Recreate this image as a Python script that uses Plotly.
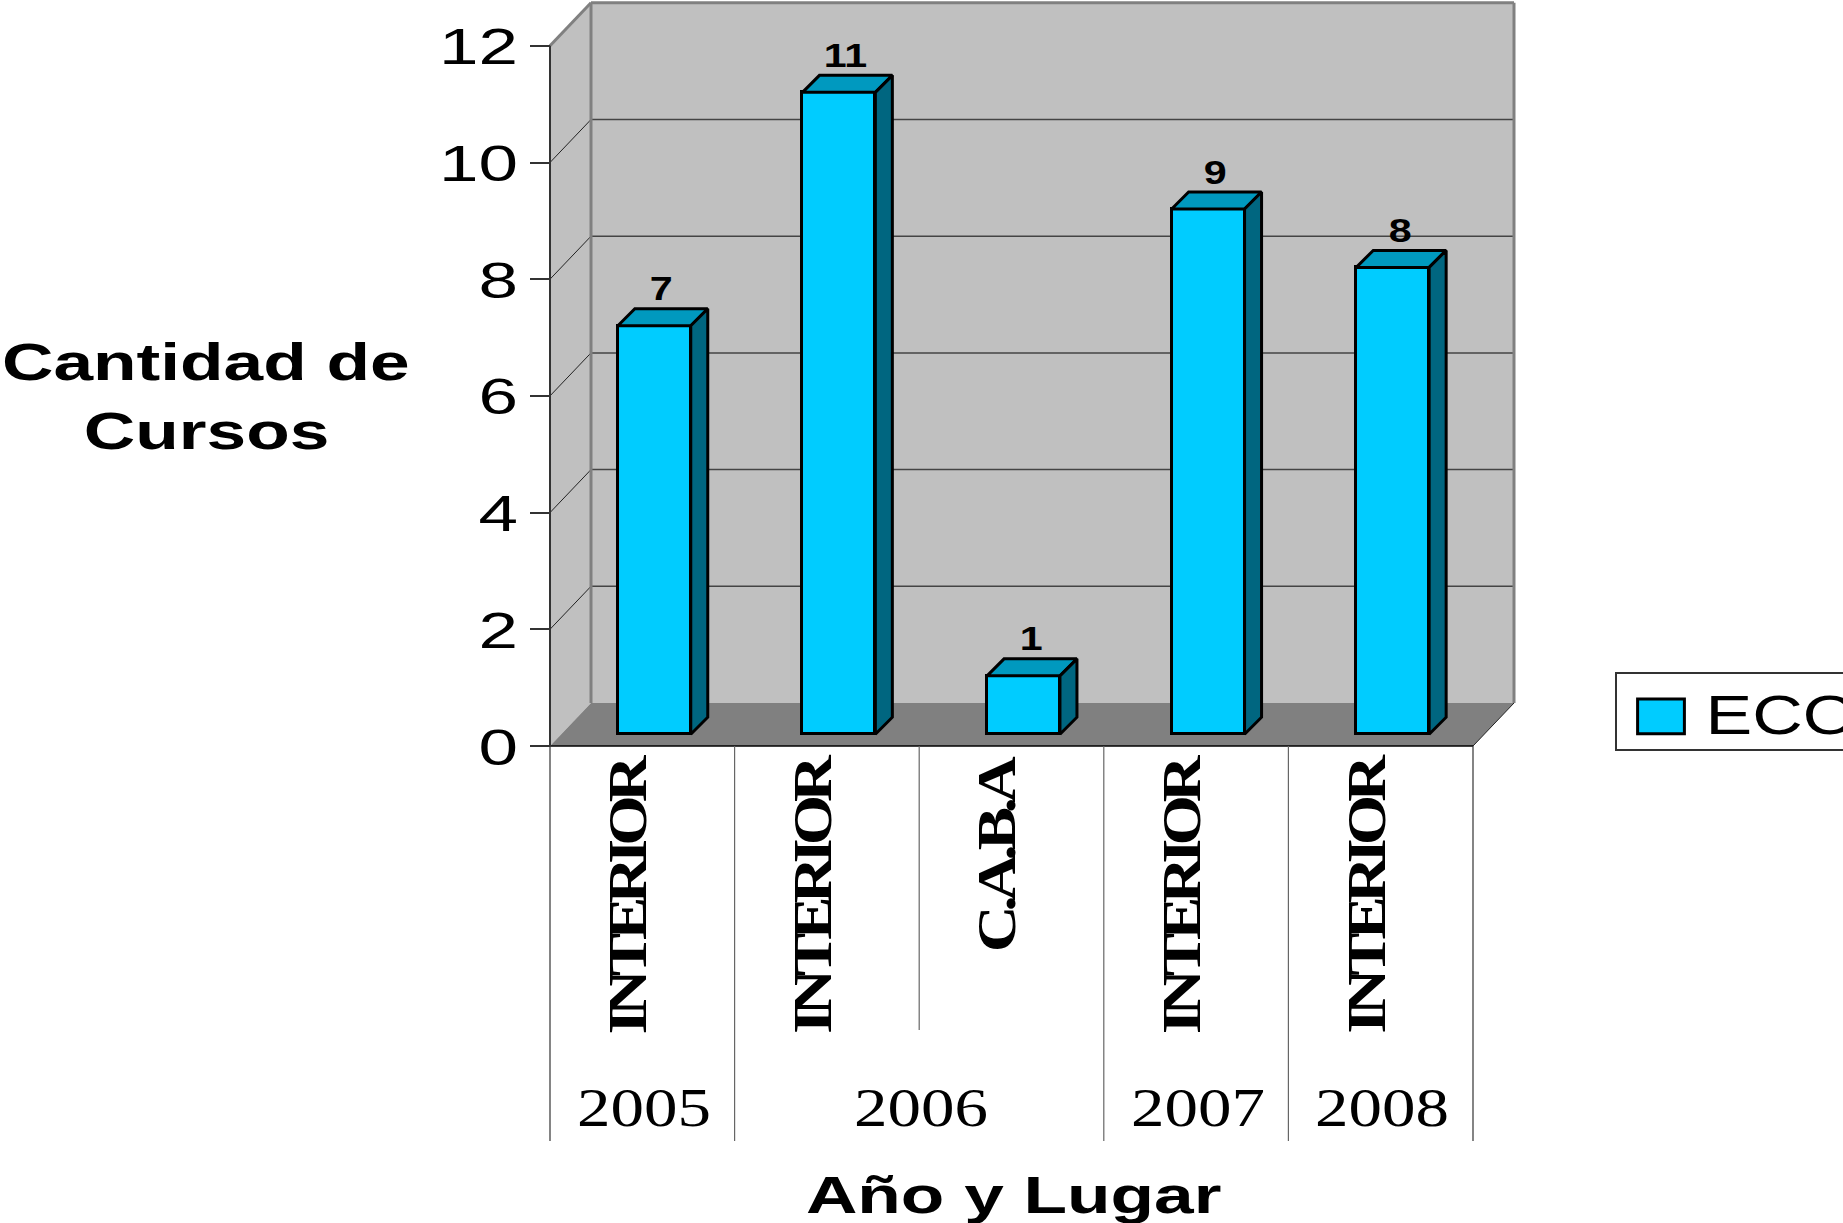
import json
import plotly.graph_objects as go

# ---------- data ----------
places = ["INTERIOR", "INTERIOR", "C.A.B.A", "INTERIOR", "INTERIOR"]
years = ["2005", "2006", "2007", "2008"]
year_spans = [(0, 1), (1, 3), (3, 4), (4, 5)]
values = [7, 11, 1, 9, 8]
y_ticks = [0, 2, 4, 6, 8, 10, 12]
series_name = "ECO"
y_title = ["Cantidad de", "Cursos"]
x_title = "Año y Lugar"

# ---------- geometry (page pixels -> axis units) ----------
W, H = 1843, 1223
X0, Y0, PX_CAT, PX_UNIT = 550.0, 746.0, 184.6, 58.35
def ux(px): return (px - X0) / PX_CAT
def uy(px): return (Y0 - px) / PX_UNIT
n = len(values)
YMAX = 12
WALL_DX, WALL_DY = 41 / PX_CAT, 43 / PX_UNIT
BAR_DX, BAR_DY = 17 / PX_CAT, 17 / PX_UNIT
BAR_BASE = 11.8 / PX_UNIT
BAR_W = 0.395
BAR_SHIFT = 0.065
centers = [i + 0.5 + BAR_SHIFT for i in range(n)]

FRONT, TOP, SIDE = "#00CCFF", "#0099BF", "#006680"
WALL, FLOOR, EDGE = "#C0C0C0", "#808080", "#808080"

shapes = []
def poly(xs, ys, fill, line=None, width=0):
    path = "M" + "L".join(f"{a},{b}" for a, b in zip(xs, ys)) + "Z"
    shapes.append(dict(type="path", path=path, xref="x", yref="y", layer="below",
                       fillcolor=fill, line=dict(color=line or fill, width=width)))
def seg(x1, y1, x2, y2, color, width=1):
    shapes.append(dict(type="line", x0=x1, y0=y1, x1=x2, y1=y2, xref="x", yref="y",
                       layer="below", line=dict(color=color, width=width)))

# left wall, back wall, floor
poly([0, WALL_DX, WALL_DX, 0], [0, WALL_DY, YMAX + WALL_DY, YMAX], WALL)
poly([WALL_DX, n + WALL_DX, n + WALL_DX, WALL_DX],
     [WALL_DY, WALL_DY, YMAX + WALL_DY, YMAX + WALL_DY], WALL)
poly([0, n, n + WALL_DX, WALL_DX], [0, 0, WALL_DY, WALL_DY], FLOOR)
# gridlines
for t in y_ticks[1:-1]:
    seg(WALL_DX, t + WALL_DY, n + WALL_DX, t + WALL_DY, "#444444", 1.5)
    seg(0, t, WALL_DX, t + WALL_DY, "#222222", 1)
# wall edges
seg(WALL_DX, WALL_DY, WALL_DX, YMAX + WALL_DY, EDGE, 3)
seg(n + WALL_DX, WALL_DY, n + WALL_DX, YMAX + WALL_DY, EDGE, 3)
seg(WALL_DX, YMAX + WALL_DY, n + WALL_DX, YMAX + WALL_DY, EDGE, 3)
seg(0, YMAX, WALL_DX, YMAX + WALL_DY, EDGE, 3)
seg(n, 0, n + WALL_DX, WALL_DY, "#222222", 1)
seg(0, 0, n, 0, "#000000", 1.5)
seg(0, 0, 0, YMAX, "#333333", 2)
# multi-level category dividers
OUTER, INNER = uy(1141), uy(1030)
for i in range(n + 1):
    seg(i, 0, i, INNER if i == 2 else OUTER, "#333333" if i in (0, n) else "#666666", 1.2)

traces = [go.Bar(x=centers, y=values, base=BAR_BASE, width=BAR_W, name=series_name,
                 marker=dict(color=FRONT, line=dict(color="black", width=3)),
                 hoverinfo="skip", showlegend=True)]
for c, v in zip(centers, values):
    l, r = c - BAR_W / 2, c + BAR_W / 2
    t = v + BAR_BASE
    traces.append(go.Scatter(x=[l, r, r + BAR_DX, l + BAR_DX, l], y=[t, t, t + BAR_DY, t + BAR_DY, t],
                             mode="lines", fill="toself", fillcolor=TOP, line=dict(color="black", width=3),
                             hoverinfo="skip", showlegend=False))
    traces.append(go.Scatter(x=[r, r + BAR_DX, r + BAR_DX, r, r],
                             y=[BAR_BASE, BAR_BASE + BAR_DY, t + BAR_DY, t, BAR_BASE],
                             mode="lines", fill="toself", fillcolor=SIDE, line=dict(color="black", width=3),
                             hoverinfo="skip", showlegend=False))

annotations, stretch, spacing = [], [], []
def note(text, x, y, size, family, sx=1.0, angle=0, xref="x", yref="y", bold=False, ls=0):
    annotations.append(dict(text=f"<b>{text}</b>" if bold else text, x=x, y=y, xref=xref, yref=yref,
                            showarrow=False, textangle=angle, xanchor="center", yanchor="middle",
                            font=dict(size=size, family=family, color="black")))
    stretch.append(sx)
    spacing.append(ls)

SANS, SERIF = "Liberation Sans", "Liberation Serif"
for c, v in zip(centers, values):
    note(str(v), c + 7 / PX_CAT, v + BAR_BASE + BAR_DY + 20 / PX_UNIT, 33, SANS, 1.25, bold=True)
for i, p in enumerate(places):
    short = p == "C.A.B.A"
    note(p, i + 0.5 - 14 / PX_CAT, uy(857) if short else uy(897), 54, SERIF, 1.2, angle=-90,
         bold=True, ls=-5 if short else -5.8)
for y, (a, b) in zip(years, year_spans):
    note(y, (a + b) / 2 + 1.5 / PX_CAT, uy(1108), 54, SERIF, 1.24)
for t, py in zip(y_title, [362, 431]):
    note(t, ux(206), uy(py), 52, SANS, 1.37, bold=True)
note(x_title, ux(1013), uy(1195), 52, SANS, 1.37, bold=True)

fig = go.Figure(traces)
fig.update_layout(
    width=W, height=H, paper_bgcolor="white", plot_bgcolor="white",
    margin=dict(l=0, r=0, t=0, b=0, pad=0, autoexpand=False),
    shapes=shapes, annotations=annotations, bargap=0,
    xaxis=dict(visible=False, range=[ux(0), ux(W)], domain=[0, 1], fixedrange=True),
    yaxis=dict(range=[uy(H), uy(0)], domain=[0, 1], anchor="free", position=X0 / W, side="left",
               tickmode="array", tickvals=y_ticks, ticks="outside", ticklen=20, tickwidth=1.5,
               tickcolor="#333333", showgrid=False, zeroline=False, showline=False,
               tickfont=dict(size=50, family=SANS, color="black"), ticklabelstandoff=2),
    legend=dict(x=1615 / W, y=1 - 672 / H, xanchor="left", yanchor="top", bgcolor="white",
                bordercolor="#333333", borderwidth=1.5, font=dict(size=56, family=SANS, color="black"),
                itemwidth=79, itemclick=False, itemdoubleclick=False),
    showlegend=True,
)

post = """
document.body.style.margin = '0';
document.body.style.overflow = 'hidden';
var gd = document.getElementById('{plot_id}');
var st = %s, sp = %s;
function scaleText(t, sx, sy, anchor, dy) {
  var b = t.getBBox();
  var cx = anchor === 'right' ? b.x + b.width : (anchor === 'left' ? b.x : b.x + b.width / 2);
  var cy = b.y + b.height / 2;
  var prev = t.getAttribute('transform') || '';
  t.setAttribute('transform', prev + ' translate(0,' + (dy || 0) + ') translate(' + cx + ',' + cy + ') scale(' + sx + ',' + sy + ') translate(' + (-cx) + ',' + (-cy) + ')');
}
gd.querySelectorAll('.annotation').forEach(function (a, i) {
  var t = a.querySelector('text');
  if (!t) return;
  if (sp[i]) t.style.letterSpacing = sp[i] + 'px';
  scaleText(t, st[i], 1, 'center', 0);
});
gd.querySelectorAll('.ytick text').forEach(function (t) { scaleText(t, 1.42, 1, 'right', 1); });
gd.querySelectorAll('.legend .legendbar path, .legend .legendpoints path').forEach(function (p) {
  var prev = p.getAttribute('transform') || '';
  p.setAttribute('transform', prev + ' scale(3.9,2.9)');
  p.style.vectorEffect = 'non-scaling-stroke';
  p.style.strokeWidth = '3px';
});
gd.querySelectorAll('.legend text').forEach(function (t) { scaleText(t, 1.25, 1, 'left', -4); });
gd.querySelectorAll('.legend .scrollbox').forEach(function (s) { s.removeAttribute('clip-path'); });
gd.querySelectorAll('.legend').forEach(function (l) { l.removeAttribute('clip-path'); });
gd.querySelectorAll('.legend rect.bg').forEach(function (r) {
  r.setAttribute('width', 400); r.setAttribute('height', 77);
});
""" % (json.dumps(stretch), json.dumps(spacing))

fig.write_html("out.html", post_script=post, config=dict(displayModeBar=False))
